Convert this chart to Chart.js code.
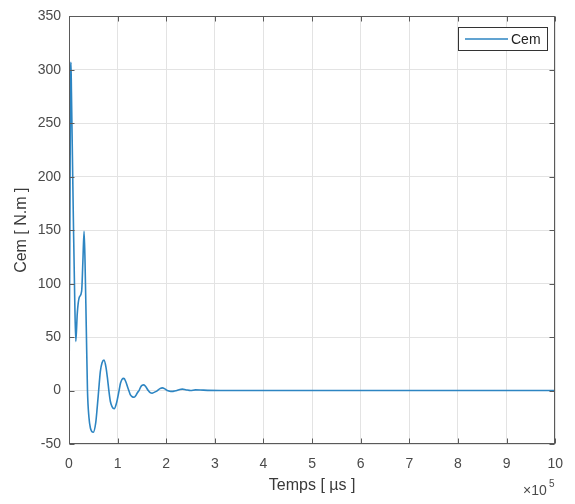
<!DOCTYPE html>
<html>
<head>
<meta charset="utf-8">
<script src="https://cdn.jsdelivr.net/npm/chart.js@4.4.1/dist/chart.umd.min.js"></script>
<style>
  html, body { margin: 0; padding: 0; background: #ffffff; }
  #wrap { width: 575px; height: 504px; }
</style>
</head>
<body>
<div id="wrap"><canvas id="c" width="575" height="504"></canvas></div>
<script>
// Electromagnetic torque Cem versus time (time in microseconds)
const timeUs = [
  0, 1500, 3000, 4000, 5000, 9000, 12000, 14000, 17000, 21000, 26000, 28500, 31000,
  33000, 35500, 38000, 41000, 44000, 50000, 55000, 58000, 61000, 64500, 68000, 72000,
  76000, 79000, 82000, 85000, 88500, 93000, 97500, 100000, 103000, 106000, 109000, 113000,
  117000, 120000, 123000, 126000, 130000, 134000, 138000, 141000, 144000, 147000, 150000,
  154000, 158000, 163000, 167000, 171000, 175000, 182000, 187000, 192000, 197000, 202000,
  207000, 212000, 217000, 222000, 228000, 233000, 240000, 250000, 260000, 270000, 285000,
  320000, 400000, 600000, 800000, 1000000
];
const cem = [
  0, 120, 280, 307, 280, 160, 80, 46, 72, 87, 93, 120, 149,
  120, 60, 0, -25, -35, -39, -30, -16, 0, 18, 26, 28.5,
  22, 12, 0, -10, -15, -17, -12, -7, 0, 7, 10.5, 11.4,
  8, 4, 0, -3.8, -5.8, -6.2, -4.3, -1.8, 0, 3, 4.8,
  5.3, 3.5, 0, -2, -2.5, -1.7, 0, 1.8, 2.5, 1.6, 0,
  -0.6, -0.8, -0.5, 0, 1, 1.3, 0.8, 0, 0.6, 0.5, 0.2,
  0.1, 0, 0, 0, 0
];
const xTicks = [0, 1, 2, 3, 4, 5, 6, 7, 8, 9, 10];          // ×10^5 µs
const yTicks = [-50, 0, 50, 100, 150, 200, 250, 300, 350];
const seriesName = 'Cem';
const xTitle = 'Temps [ µs ]';
const yTitle = 'Cem [ N.m ]';
const xScaleFactor = 1e5;

const FONT = '"Liberation Sans", Arial, sans-serif';
const TEXT = '#4a4a4a';
const AXIS = '#5a5a5a';
const GRID = '#e3e3e3';
const LINE = '#2d85c2';

const points = timeUs.map((t, i) => ({ x: t, y: cem[i] }));

// Box, inward ticks, axis titles, exponent label and legend
const decor = {
  id: 'decor',
  afterDraw(chart) {
    const { ctx, chartArea: a, scales } = chart;
    const xs = scales.x, ys = scales.y;
    ctx.save();
    ctx.strokeStyle = AXIS;
    ctx.lineWidth = 1;
    const L = Math.round(a.left) + 0.5, R = Math.round(a.right) - 0.5;
    const T = Math.round(a.top) + 0.5, B = Math.round(a.bottom) - 0.5;
    ctx.strokeRect(L, T, R - L, B - T);
    const tl = 5;
    ctx.beginPath();
    xTicks.forEach(v => {
      const px = Math.round(xs.getPixelForValue(v * xScaleFactor)) + 0.5;
      ctx.moveTo(px, B); ctx.lineTo(px, B - tl);
      ctx.moveTo(px, T); ctx.lineTo(px, T + tl);
    });
    yTicks.forEach(v => {
      const py = Math.round(ys.getPixelForValue(v)) + 0.5;
      ctx.moveTo(L, py); ctx.lineTo(L + tl, py);
      ctx.moveTo(R, py); ctx.lineTo(R - tl, py);
    });
    ctx.stroke();

    // axis titles
    ctx.fillStyle = '#3a3a3a';
    ctx.font = '16px ' + FONT;
    ctx.textAlign = 'center';
    ctx.textBaseline = 'middle';
    ctx.fillText(xTitle, (a.left + a.right) / 2, 486);
    ctx.save();
    ctx.translate(22, (a.top + a.bottom) / 2);
    ctx.rotate(-Math.PI / 2);
    ctx.fillText(yTitle, 0, 0);
    ctx.restore();

    // exponent of the x axis
    ctx.fillStyle = TEXT;
    ctx.textAlign = 'left';
    ctx.font = '14px ' + FONT;
    ctx.fillText('\u00d710', 523, 491);
    ctx.font = '10px ' + FONT;
    ctx.fillText('5', 549, 484);

    // legend
    const lx = 458.5, ly = 27.5, lw = 89, lh = 23;
    ctx.fillStyle = '#ffffff';
    ctx.fillRect(lx, ly, lw, lh);
    ctx.strokeStyle = '#333333';
    ctx.strokeRect(lx, ly, lw, lh);
    ctx.strokeStyle = LINE;
    ctx.lineWidth = 1.6;
    ctx.beginPath();
    ctx.moveTo(465, ly + lh / 2); ctx.lineTo(508, ly + lh / 2);
    ctx.stroke();
    ctx.fillStyle = '#222222';
    ctx.font = '14px ' + FONT;
    ctx.textAlign = 'left';
    ctx.fillText(chart.data.datasets[0].label, 511, ly + lh / 2 + 1);
    ctx.restore();
  }
};

new Chart(document.getElementById('c'), {
  type: 'line',
  data: {
    datasets: [{
      label: seriesName,
      data: points,
      borderColor: LINE,
      borderWidth: 1.6,
      pointRadius: 0,
      cubicInterpolationMode: 'monotone',
      fill: false
    }]
  },
  options: {
    responsive: false,
    animation: false,
    devicePixelRatio: 1,
    layout: { padding: { left: 0, right: 16, top: 12, bottom: 0 } },
    plugins: { legend: { display: false }, tooltip: { enabled: false } },
    scales: {
      x: {
        type: 'linear',
        min: 0, max: 1000000,
        afterBuildTicks(s) { s.ticks = xTicks.map(v => ({ value: v * xScaleFactor })); },
        afterFit(s) { s.height = 60; },
        ticks: {
          color: TEXT, font: { family: FONT, size: 14 }, padding: 12,
          maxRotation: 0, autoSkip: false,
          callback: v => String(Math.round(v / xScaleFactor))
        },
        grid: { color: GRID, drawTicks: false },
        border: { display: false }
      },
      y: {
        min: -50, max: 350,
        afterBuildTicks(s) { s.ticks = yTicks.map(v => ({ value: v })); },
        afterFit(s) { s.width = 69; },
        ticks: {
          color: TEXT, font: { family: FONT, size: 14 }, padding: 8,
          autoSkip: false
        },
        grid: { color: GRID, drawTicks: false },
        border: { display: false }
      }
    }
  },
  plugins: [decor]
});
</script>
</body>
</html>
